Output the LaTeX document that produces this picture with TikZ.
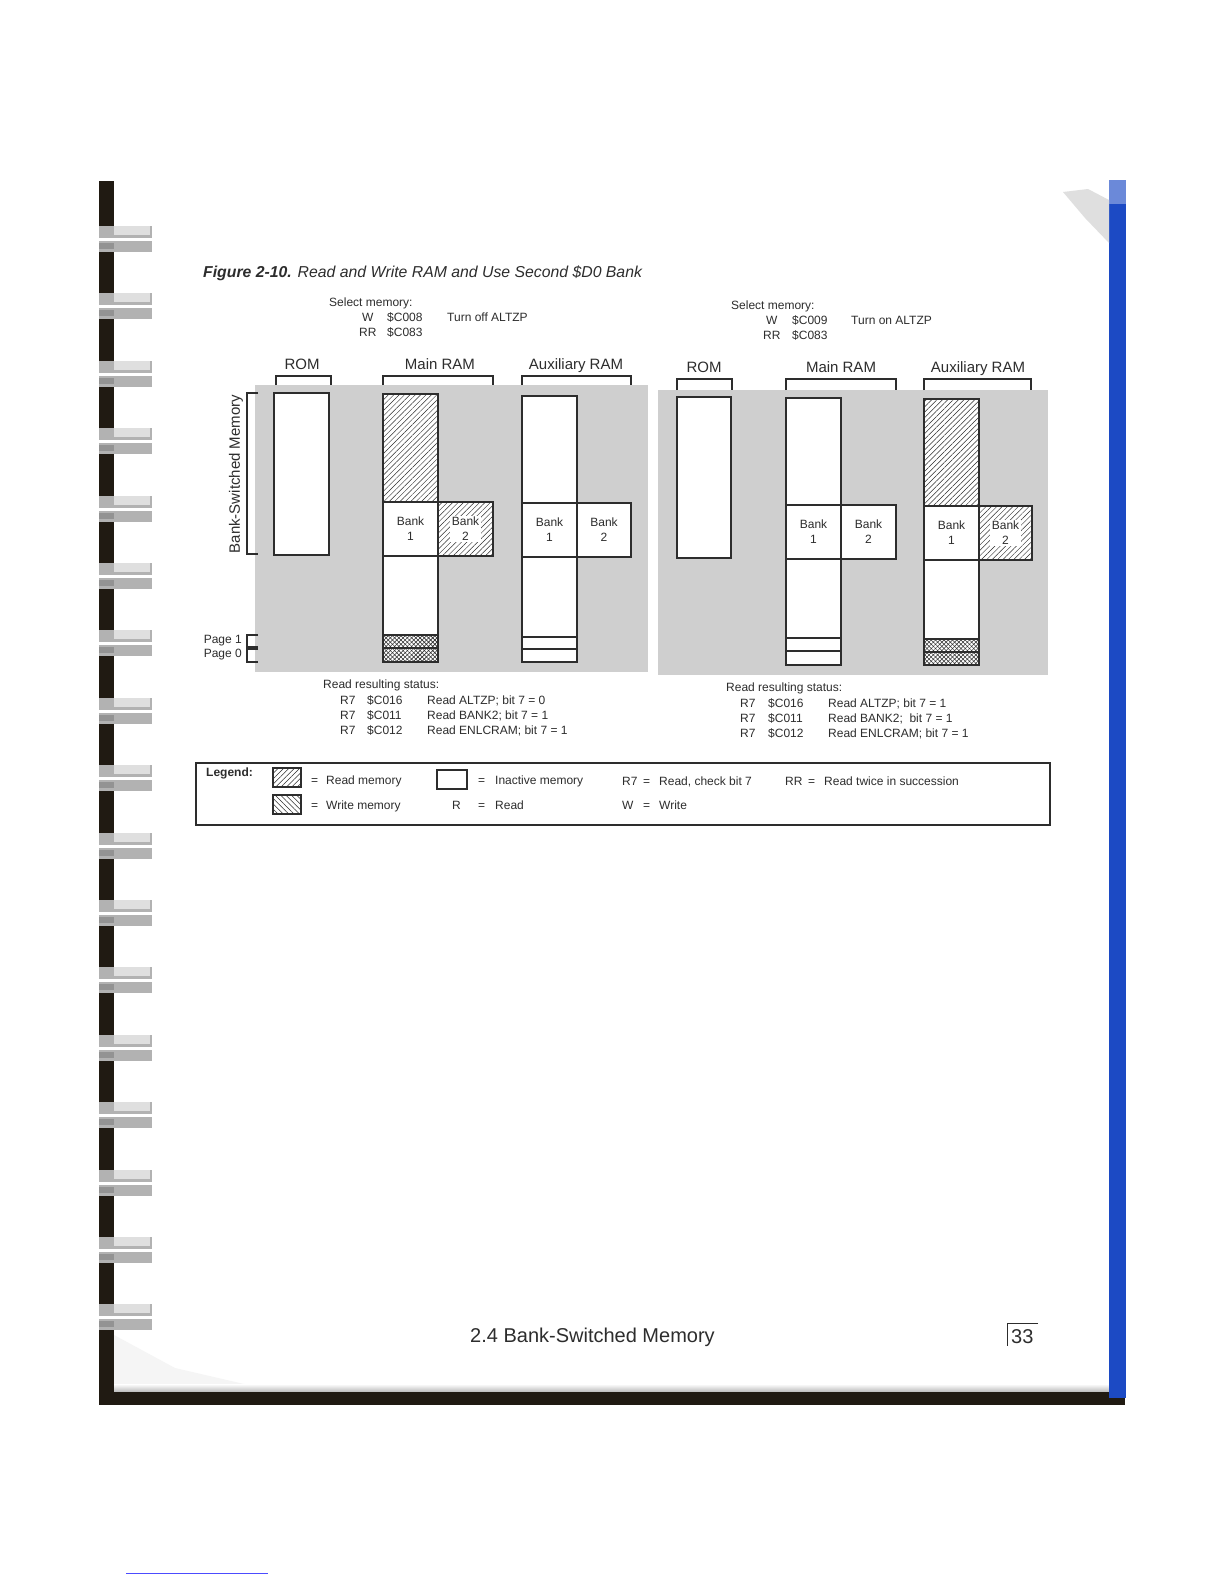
\documentclass[tikz,border=0pt]{standalone}
\usepackage{fontspec}
\setmainfont{Liberation Sans}
\usetikzlibrary{patterns.meta}
\definecolor{ink}{RGB}{45,45,45}
\definecolor{panelgray}{RGB}{207,207,207}
\definecolor{spine}{RGB}{32,26,18}
\definecolor{bindblue}{RGB}{28,74,196}
\tikzset{
  txt/.style={inner sep=0, anchor=base west, font=\fontsize{12}{14}\selectfont, text=ink},
  txte/.style={txt, anchor=base east},
  lbl/.style={inner sep=0, anchor=base, font=\fontsize{15}{18}\selectfont, text=ink},
  blk/.style={draw=ink, line width=1.1pt, inner sep=0, outer sep=0, preaction={fill=white}},
  panel/.style={fill=panelgray, inner sep=0, outer sep=0},
  banktxt/.style={inner sep=1.5pt, align=center, font=\fontsize{12}{15}\selectfont, text=ink},
  brk/.style={draw=ink, line width=1.1pt},
  rdhatch/.style={pattern={Lines[angle=45,distance=3.8pt,line width=0.5pt]}, pattern color=ink},
  wrhatch/.style={pattern={Lines[angle=-45,distance=3.8pt,line width=0.5pt]}, pattern color=ink},
  pghatch/.style={pattern={Lines[angle=45,distance=3pt,line width=0.55pt]}, pattern color=ink,
     postaction={pattern={Lines[angle=-45,distance=3pt,line width=0.55pt]}, pattern color=ink}},
}
\newcommand\mblk[6]{\node[blk,#6,minimum width={#4-#2},minimum height={#5-#3}] (#1) at ({(#2+#4)/2},{(#3+#5)/2}) {};}
\begin{document}
\begin{tikzpicture}[x=1pt,y=-1pt]
\useasboundingbox (0,0) rectangle (1224,1584);
\fill[white] (0,0) rectangle (1224,1584);
% ---- page frame (photo of spiral-bound page) ----
\fill[gray!8] (114,1335) -- (175,1368) -- (270,1390) -- (114,1390) -- cycle;
\shade[top color=white, bottom color=gray!55] (114,1384) rectangle (1109,1392);
\fill[spine] (99,181) rectangle (114,1405);
\fill[spine] (99,1392) rectangle (1125,1405);
\fill[bindblue] (1109,180) rectangle (1126,1398);
\fill[bindblue!65!white] (1109,180) rectangle (1126,204);
\fill[gray!25] (1063,192) -- (1088,189) -- (1109,200) -- (1109,243) -- (1085,218) -- cycle;
\foreach \i [evaluate=\i as \c using 239+67.4*\i] in {0,...,16} {
  \fill[gray!60] (99,\c-13) rectangle (152,\c+13);
  \fill[gray!25] (114,\c-13) rectangle (150,\c-4);
  \fill[gray!85] (99,\c+4) rectangle (114,\c+10);
  \fill[white] (99,\c-1) rectangle (152,\c+2);
}
\draw[blue!70, line width=0.8pt] (126,1573) -- (268,1573);
% ---- caption ----
\node[inner sep=0, anchor=base west, font=\fontsize{15.8}{18}\selectfont\itshape, text=ink] (cap) at (203,277)
  {\textbf{Figure 2-10.} Read and Write RAM and Use Second \$D0 Bank};
% ---- left: select memory ----
\node[txt] (selL) at (329,306) {Select memory:};
\node[txt] (selLw) at (362,321) {W};
\node[txt] (selLwa) at (387,321) {\$C008};
\node[txt] (selLwd) at (447,321) {Turn off ALTZP};
\node[txt] (selLr) at (359,336) {RR};
\node[txt] (selLra) at (387,336) {\$C083};
% ---- right: select memory ----
\node[txt] (selR) at (731,309) {Select memory:};
\node[txt] (selRw) at (766,324) {W};
\node[txt] (selRwa) at (792,324) {\$C009};
\node[txt] (selRwd) at (851,324) {Turn on ALTZP};
\node[txt] (selRr) at (763,339) {RR};
\node[txt] (selRra) at (792,339) {\$C083};
% ---- panels ----
\node[panel, minimum width=393, minimum height=287] (panelL) at (451.5,528.5) {};
\node[panel, minimum width=390, minimum height=285] (panelR) at (853,532.5) {};
% ---- left column labels and brackets ----
\node[lbl] (romLlbl) at (302,369) {ROM};
\node[lbl] (mainLlbl) at (440,369) {Main RAM};
\node[lbl] (auxLlbl) at (576,369) {Auxiliary RAM};
\draw[brk] (276,385) |- (331,376) -- (331,385);
\draw[brk] (383,385) |- (493,376) -- (493,385);
\draw[brk] (522,385) |- (631,376) -- (631,385);
% ---- left blocks ----
\mblk{romL}{274}{393}{329}{555}{}
\mblk{mtopL}{383}{394}{438}{502}{rdhatch}
\mblk{mb1L}{383}{502}{438}{556}{}
\mblk{mb2L}{438}{502}{493}{556}{rdhatch}
\mblk{mlowL}{383}{556}{438}{635}{}
\mblk{mp1L}{383}{635}{438}{648}{pghatch}
\mblk{mp0L}{383}{648}{438}{662}{pghatch}
\mblk{atopL}{522}{396}{577}{503}{}
\mblk{ab1L}{522}{503}{577}{557}{}
\mblk{ab2L}{577}{503}{631}{557}{}
\mblk{alowL}{522}{557}{577}{637}{}
\mblk{ap1L}{522}{637}{577}{649}{}
\mblk{ap0L}{522}{649}{577}{662}{}
\node[banktxt] (tmb1L) at (mb1L) {Bank\\1};
\node[banktxt, fill=white] (tmb2L) at (mb2L) {Bank\\2};
\node[banktxt] (tab1L) at (ab1L) {Bank\\1};
\node[banktxt] (tab2L) at (ab2L) {Bank\\2};
% ---- bank-switched memory and page brackets ----
\draw[brk] (258,393) -- (247,393) -- (247,554) -- (258,554);
\node[lbl, anchor=center, rotate=90] (bsm) at (236,474) {Bank-Switched Memory};
\draw[brk] (258,635) -- (247,635) -- (247,647) -- (258,647);
\draw[brk] (258,649) -- (247,649) -- (247,662) -- (258,662);
\node[txte] (pg1) at (242,643) {Page 1};
\node[txte] (pg0) at (242,657) {Page 0};
% ---- right column labels and brackets ----
\node[lbl] (romRlbl) at (704,372) {ROM};
\node[lbl] (mainRlbl) at (841,372) {Main RAM};
\node[lbl] (auxRlbl) at (978,372) {Auxiliary RAM};
\draw[brk] (677,390) |- (732,379) -- (732,390);
\draw[brk] (786,390) |- (896,379) -- (896,390);
\draw[brk] (924,390) |- (1031,379) -- (1031,390);
% ---- right blocks ----
\mblk{romR}{677}{397}{731}{558}{}
\mblk{mtopR}{786}{398}{841}{505}{}
\mblk{mb1R}{786}{505}{841}{559}{}
\mblk{mb2R}{841}{505}{896}{559}{}
\mblk{mlowR}{786}{559}{841}{638}{}
\mblk{mp1R}{786}{638}{841}{651}{}
\mblk{mp0R}{786}{651}{841}{665}{}
\mblk{atopR}{924}{399}{979}{506}{rdhatch}
\mblk{ab1R}{924}{506}{979}{560}{}
\mblk{ab2R}{979}{506}{1032}{560}{rdhatch}
\mblk{alowR}{924}{560}{979}{639}{}
\mblk{ap1R}{924}{639}{979}{652}{pghatch}
\mblk{ap0R}{924}{652}{979}{665}{pghatch}
\node[banktxt] (tmb1R) at (mb1R) {Bank\\1};
\node[banktxt] (tmb2R) at (mb2R) {Bank\\2};
\node[banktxt] (tab1R) at (ab1R) {Bank\\1};
\node[banktxt, fill=white] (tab2R) at (ab2R) {Bank\\2};
% ---- left: read resulting status ----
\node[txt] (stL) at (323,688) {Read resulting status:};
\node[txt] (stL1a) at (340,704) {R7};
\node[txt] (stL1b) at (367,704) {\$C016};
\node[txt] (stL1c) at (427,704) {Read ALTZP; bit 7 = 0};
\node[txt] (stL2a) at (340,719) {R7};
\node[txt] (stL2b) at (367,719) {\$C011};
\node[txt] (stL2c) at (427,719) {Read BANK2; bit 7 = 1};
\node[txt] (stL3a) at (340,734) {R7};
\node[txt] (stL3b) at (367,734) {\$C012};
\node[txt] (stL3c) at (427,734) {Read ENLCRAM; bit 7 = 1};
% ---- right: read resulting status ----
\node[txt] (stR) at (726,691) {Read resulting status:};
\node[txt] (stR1a) at (740,707) {R7};
\node[txt] (stR1b) at (768,707) {\$C016};
\node[txt] (stR1c) at (828,707) {Read ALTZP; bit 7 = 1};
\node[txt] (stR2a) at (740,722) {R7};
\node[txt] (stR2b) at (768,722) {\$C011};
\node[txt] (stR2c) at (828,722) {Read BANK2;~ bit 7 = 1};
\node[txt] (stR3a) at (740,737) {R7};
\node[txt] (stR3b) at (768,737) {\$C012};
\node[txt] (stR3c) at (828,737) {Read ENLCRAM; bit 7 = 1};
% ---- legend ----
\node[draw=ink, line width=1.4pt, inner sep=0, minimum width=854, minimum height=62] (legend) at (623,794) {};
\node[txt, font=\fontsize{12}{14}\selectfont\bfseries] (legt) at (206,776) {Legend:};
\mblk{legR}{273}{768}{301}{787}{rdhatch}
\mblk{legW}{273}{795}{301}{814}{wrhatch}
\mblk{legI}{437}{770}{467}{789}{}
\node[txt] (eq1) at (311,784) {=};
\node[txt] (lr) at (326,784) {Read memory};
\node[txt] (eq2) at (311,809) {=};
\node[txt] (lw) at (326,809) {Write memory};
\node[txt] (eq3) at (478,784) {=};
\node[txt] (li) at (495,784) {Inactive memory};
\node[txt] (lR) at (452,809) {R};
\node[txt] (eq4) at (478,809) {=};
\node[txt] (lRd) at (495,809) {Read};
\node[txt] (lR7) at (622,785) {R7};
\node[txt] (eq5) at (643,785) {=};
\node[txt] (lR7d) at (659,785) {Read, check bit 7};
\node[txt] (lRR) at (785,785) {RR};
\node[txt] (eq6) at (808,785) {=};
\node[txt] (lRRd) at (824,785) {Read twice in succession};
\node[txt] (lW) at (622,809) {W};
\node[txt] (eq7) at (643,809) {=};
\node[txt] (lWd) at (659,809) {Write};
% ---- footer ----
\node[inner sep=0, anchor=base west, font=\fontsize{20}{24}\selectfont, text=ink] (foot) at (470,1342) {2.4 Bank-Switched Memory};
\draw[draw=ink, line width=1pt] (1038,1323) -- (1007,1323) -- (1007,1346);
\node[inner sep=0, anchor=base west, font=\fontsize{20}{24}\selectfont, text=ink] (pgno) at (1011,1343) {33};
\end{tikzpicture}
\end{document}
